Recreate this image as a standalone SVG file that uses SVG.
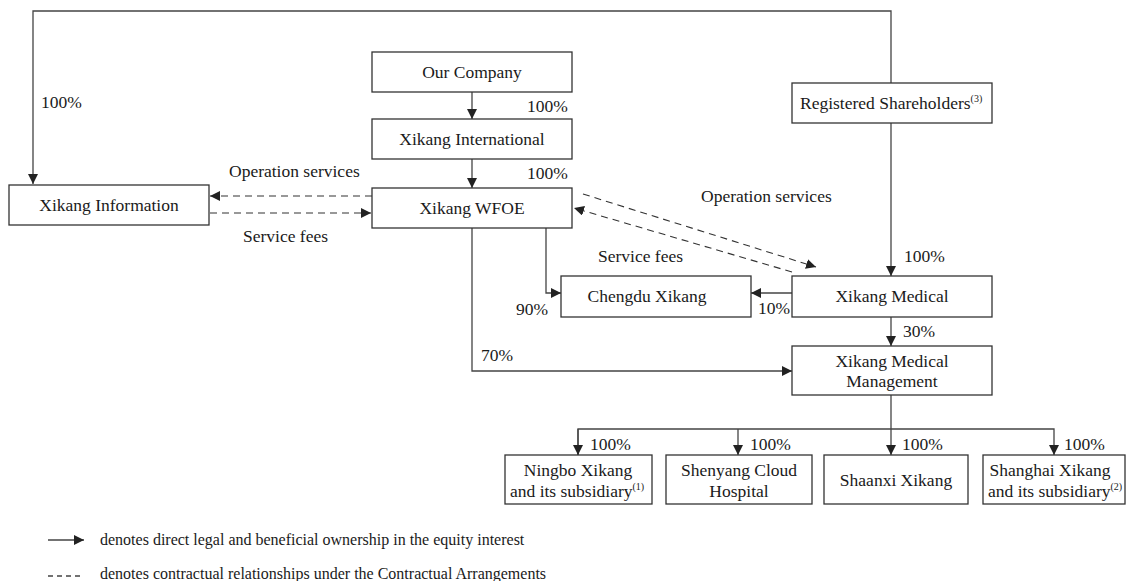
<svg xmlns="http://www.w3.org/2000/svg" width="1126" height="581" viewBox="0 0 1126 581">
<style>
text{font-family:"Liberation Serif","Times New Roman",serif;fill:#1a1a1a;font-size:17.5px}
.box{fill:#fff;stroke:#333;stroke-width:1.3}
.c{text-anchor:middle}
.ln{fill:none;stroke:#444;stroke-width:1.3}
.dash{fill:none;stroke:#333;stroke-width:1.1;stroke-dasharray:7 5}
.sup{font-size:10px}
.lg{font-size:16px}
</style>
<defs>
<marker id="ah" viewBox="0 0 10 10" refX="10" refY="5" markerWidth="10" markerHeight="10" markerUnits="userSpaceOnUse" orient="auto">
<path d="M0,0 L10,5 L0,10 z" fill="#222"/>
</marker>
</defs>
<g id="connectors">
<polyline class="ln" points="891,83 891,11 33,11 33,184" marker-end="url(#ah)"/>
<line class="ln" x1="472" y1="92" x2="472" y2="119" marker-end="url(#ah)"/>
<line class="ln" x1="472" y1="159" x2="472" y2="188" marker-end="url(#ah)"/>
<line class="ln" x1="891" y1="123" x2="891" y2="276" marker-end="url(#ah)"/>
<line class="ln" x1="792" y1="293" x2="751" y2="293" marker-end="url(#ah)"/>
<polyline class="ln" points="546,228 546,293 561,293" marker-end="url(#ah)"/>
<polyline class="ln" points="472,228 472,371 792,371" marker-end="url(#ah)"/>
<line class="ln" x1="891" y1="317" x2="891" y2="346" marker-end="url(#ah)"/>
<line class="ln" x1="891" y1="395" x2="891" y2="455" marker-end="url(#ah)"/>
<polyline class="ln" points="578,455 578,429 1054,429 1054,455" marker-end="url(#ah)"/>
<line class="ln" x1="578" y1="429" x2="578" y2="455" marker-end="url(#ah)"/>
<line class="ln" x1="738" y1="429" x2="738" y2="455" marker-end="url(#ah)"/>
<line class="dash" x1="372" y1="196" x2="210" y2="196" marker-end="url(#ah)"/>
<line class="dash" x1="210" y1="213" x2="371" y2="213" marker-end="url(#ah)"/>
<line class="dash" x1="583" y1="194" x2="816" y2="267" marker-end="url(#ah)"/>
<line class="dash" x1="792" y1="272" x2="574" y2="208" marker-end="url(#ah)"/>
<text x="41" y="108">100%</text>
<text x="527" y="112">100%</text>
<text x="527" y="179">100%</text>
<text x="229" y="177">Operation services</text>
<text x="243" y="242">Service fees</text>
<text x="701" y="202">Operation services</text>
<text x="598" y="262">Service fees</text>
<text x="904" y="262">100%</text>
<text x="516" y="315">90%</text>
<text x="758" y="314">10%</text>
<text x="903" y="337">30%</text>
<text x="481" y="361">70%</text>
<text x="590" y="450">100%</text>
<text x="750" y="450">100%</text>
<text x="902" y="450">100%</text>
<text x="1064" y="450">100%</text>
</g>
<g id="our-company"><rect class="box" x="372" y="52" width="200" height="40"/><text class="c" x="472" y="78">Our Company</text></g>
<g id="xikang-international"><rect class="box" x="372" y="119" width="200" height="40"/><text class="c" x="472" y="145">Xikang International</text></g>
<g id="xikang-wfoe"><rect class="box" x="372" y="188" width="200" height="40"/><text class="c" x="472" y="214">Xikang WFOE</text></g>
<g id="xikang-information"><rect class="box" x="9" y="185" width="200" height="40"/><text class="c" x="109" y="211">Xikang Information</text></g>
<g id="registered-shareholders"><rect class="box" x="792" y="83" width="200" height="40"/><text x="800" y="109">Registered Shareholders<tspan class="sup" dy="-7">(3)</tspan></text></g>
<g id="xikang-medical"><rect class="box" x="792" y="276" width="200" height="41"/><text class="c" x="892" y="302">Xikang Medical</text></g>
<g id="chengdu-xikang"><rect class="box" x="561" y="276" width="190" height="41"/><text class="c" x="647" y="302">Chengdu Xikang</text></g>
<g id="xikang-medical-management"><rect class="box" x="792" y="346" width="200" height="49"/><text class="c" x="892" y="367">Xikang Medical</text><text class="c" x="892" y="387">Management</text></g>
<g id="ningbo-xikang"><rect class="box" x="505" y="455" width="147" height="49"/><text class="c" x="578" y="476">Ningbo Xikang</text><text x="510" y="497">and its subsidiary<tspan class="sup" dy="-7">(1)</tspan></text></g>
<g id="shenyang-cloud-hospital"><rect class="box" x="666" y="455" width="146" height="49"/><text class="c" x="739" y="476">Shenyang Cloud</text><text class="c" x="739" y="497">Hospital</text></g>
<g id="shaanxi-xikang"><rect class="box" x="824" y="455" width="144" height="49"/><text class="c" x="896" y="486">Shaanxi Xikang</text></g>
<g id="shanghai-xikang"><rect class="box" x="983" y="455" width="142" height="49"/><text class="c" x="1050" y="476">Shanghai Xikang</text><text x="988" y="497">and its subsidiary<tspan class="sup" dy="-7">(2)</tspan></text></g>
<g id="legend">
<line class="ln" x1="48" y1="540" x2="84" y2="540" marker-end="url(#ah)"/>
<text class="lg" x="100" y="545">denotes direct legal and beneficial ownership in the equity interest</text>
<line class="ln" x1="48" y1="576" x2="80" y2="576" stroke-dasharray="5 4"/>
<text class="lg" x="100" y="579">denotes contractual relationships under the Contractual Arrangements</text>
</g>
</svg>
